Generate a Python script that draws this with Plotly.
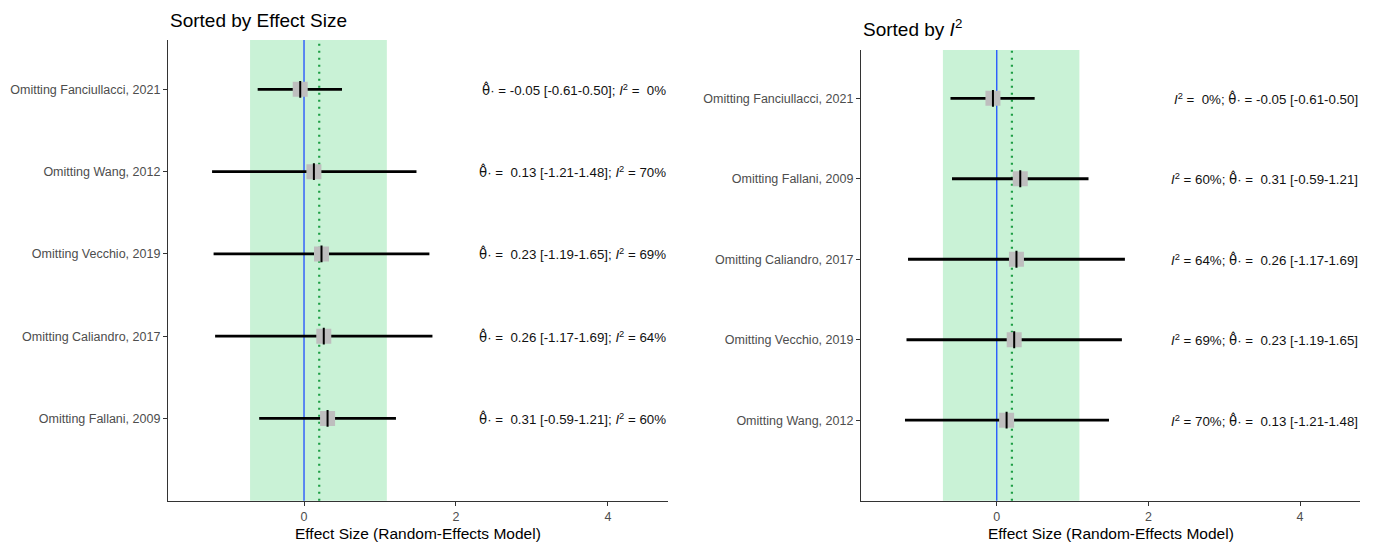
import plotly.graph_objects as go

# ---- data ----
studies = ["Omitting Fanciullacci, 2021", "Omitting Wang, 2012", "Omitting Vecchio, 2019",
           "Omitting Caliandro, 2017", "Omitting Fallani, 2009"]
effect = [-0.05, 0.13, 0.23, 0.26, 0.31]
ci_lower = [-0.61, -1.21, -1.19, -1.17, -0.59]
ci_upper = [0.50, 1.48, 1.65, 1.69, 1.21]
i2 = [0, 70, 69, 64, 60]
pooled = 0.20
pi_lower = -0.71
pi_upper = 1.09
x_ticks = [0, 2, 4]

FONT = "Liberation Sans, Arial, Helvetica, sans-serif"
OFF = 8  # page body margin
W, H = 1375 - OFF, 543 - OFF

def px(x):
    return (x - OFF) / W

def py(y):
    return (H - (y - OFF)) / H

def fmt_theta(e, l, u):
    s = f"{e:.2f}"
    if e >= 0:
        s = "\u00a0" + s
    return f"<span style='font-family:DejaVu Sans'>θ̂</span>· = {s} [{l:.2f}-{u:.2f}]"

def fmt_i2(v):
    s = f"{v}%"
    if v < 10:
        s = "\u00a0" + s
    return f"<i>I</i><sup>2</sup> = {s}"

order_es = sorted(range(len(studies)), key=lambda k: effect[k])
order_i2 = sorted(range(len(studies)), key=lambda k: i2[k])

panels = [
    dict(order=order_es, xa="x", ya="y", xdom=[px(168), px(668)], ydom=[py(500.7), py(40)],
         label=lambda k: fmt_theta(effect[k], ci_lower[k], ci_upper[k]) + "; " + fmt_i2(i2[k]),
         title="Sorted by Effect Size", title_y=py(21)),
    dict(order=order_i2, xa="x2", ya="y2", xdom=[px(861), px(1360)], ydom=[py(500.7), py(50)],
         label=lambda k: fmt_i2(i2[k]) + "; " + fmt_theta(effect[k], ci_lower[k], ci_upper[k]),
         title="Sorted by <i>I</i><sup>2</sup>", title_y=py(28)),
]

fig = go.Figure()
shapes = []
annotations = []
layout_axes = {}

for idx, p in enumerate(panels):
    order = p["order"]
    pos = list(range(len(order)))
    xs_line, ys_line = [], []
    for j, k in enumerate(order):
        xs_line += [ci_lower[k], ci_upper[k], None]
        ys_line += [j, j, None]
    fig.add_trace(go.Scatter(x=xs_line, y=ys_line, mode="lines", xaxis=p["xa"], yaxis=p["ya"],
                             line=dict(color="black", width=2.8), showlegend=False, hoverinfo="skip"))
    fig.add_trace(go.Scatter(x=[effect[k] for k in order], y=pos, mode="markers", xaxis=p["xa"], yaxis=p["ya"],
                             marker=dict(symbol="square", size=15, color="#bebebe", line=dict(width=0)),
                             showlegend=False, hoverinfo="skip"))
    fig.add_trace(go.Scatter(x=[effect[k] for k in order], y=pos, mode="markers", xaxis=p["xa"], yaxis=p["ya"],
                             marker=dict(symbol="line-ns", size=12, color="black", line=dict(width=2, color="black")),
                             showlegend=False, hoverinfo="skip"))

    xr = p["xa"]
    yr_dom = ("y" if idx == 0 else "y2") + " domain"
    shapes.append(dict(type="rect", xref=xr, yref=yr_dom, x0=pi_lower, x1=pi_upper, y0=0, y1=1,
                       fillcolor="#c9f2d6", line=dict(width=0), layer="below"))
    shapes.append(dict(type="line", xref=xr, yref=yr_dom, x0=0, x1=0, y0=0, y1=1,
                       line=dict(color="#1f4fff", width=1.3), layer="below"))
    shapes.append(dict(type="line", xref=xr, yref=yr_dom, x0=pooled, x1=pooled, y0=0, y1=1,
                       line=dict(color="#1e9e45", width=2.2, dash="2px,5px"), layer="below"))

    for j, k in enumerate(order):
        annotations.append(dict(xref=xr + " domain", yref=p["ya"], x=1.0, y=j, xanchor="right", yanchor="middle",
                                text=p["label"](k), showarrow=False,
                                font=dict(family=FONT, size=13.3, color="#111111")))

    annotations.append(dict(xref="paper", yref="paper", x=p["xdom"][0], y=p["title_y"], xanchor="left",
                            yanchor="middle", text=p["title"], showarrow=False,
                            font=dict(family=FONT, size=19, color="black")))
    annotations.append(dict(xref="paper", yref="paper", x=(p["xdom"][0] + p["xdom"][1]) / 2, y=py(533),
                            xanchor="center", yanchor="middle", text="Effect Size (Random-Effects Model)",
                            showarrow=False, font=dict(family=FONT, size=15.5, color="black")))

    axis_common = dict(showline=True, linecolor="#333333", linewidth=1.3, ticks="outside", ticklen=4,
                       tickcolor="#333333", tickwidth=1.1, showgrid=False, zeroline=False,
                       tickfont=dict(family=FONT, size=12.5, color="#4d4d4d"))
    xname = "xaxis" if idx == 0 else "xaxis2"
    yname = "yaxis" if idx == 0 else "yaxis2"
    layout_axes[xname] = dict(domain=p["xdom"], range=[-1.79, 4.79], tickvals=x_ticks,
                              ticktext=[str(t) for t in x_ticks], anchor=p["ya"], **axis_common)
    layout_axes[yname] = dict(domain=p["ydom"], range=[5.0, -0.6], tickvals=pos,
                              ticktext=[studies[k] for k in order], anchor=p["xa"], **axis_common)

fig.update_layout(width=W, height=H, margin=dict(l=0, r=0, t=0, b=0),
                  paper_bgcolor="white", plot_bgcolor="white",
                  shapes=shapes, annotations=annotations, showlegend=False, **layout_axes)

fig.write_html("out.html")
